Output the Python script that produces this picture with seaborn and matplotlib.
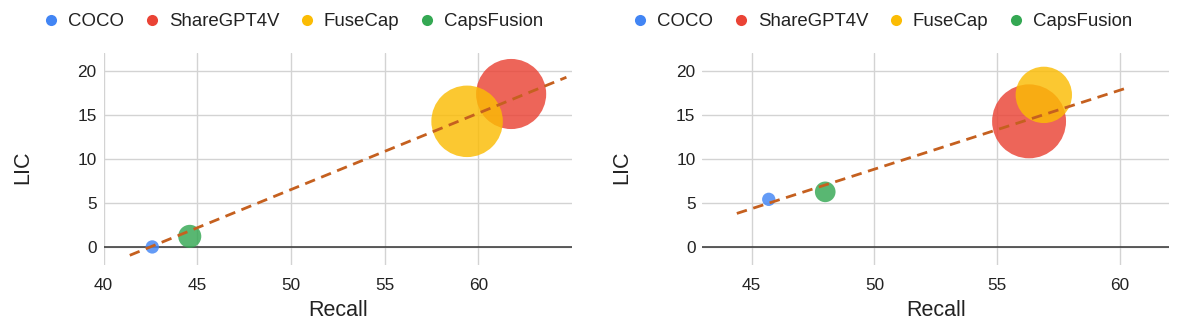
import numpy as np
import pandas as pd
import matplotlib
matplotlib.use("Agg")
import matplotlib.pyplot as plt
import seaborn as sns
from matplotlib.lines import Line2D

# ---------------- data ----------------
datasets = ["COCO", "ShareGPT4V", "FuseCap", "CapsFusion"]
colors = ["#4285F4", "#EA4335", "#FBBC04", "#34A853"]

left_recall = [42.6, 61.75, 59.4, 44.6]
left_lic = [0.05, 17.4, 14.3, 1.25]
left_bubble = [1.0, 27.7, 28.8, 3.0]
left_trend_recall = [41.4, 64.7]
left_trend_lic = [-0.9, 19.3]

right_recall = [45.7, 56.3, 56.9, 48.0]
right_lic = [5.45, 14.3, 17.3, 6.3]
right_bubble = [1.0, 30.8, 17.9, 2.4]
right_trend_recall = [44.4, 60.35]
right_trend_lic = [3.85, 18.15]

x_ticks_left = [40, 45, 50, 55, 60]
x_ticks_right = [45, 50, 55, 60]
y_ticks = [0, 5, 10, 15, 20]

# ---------------- style ----------------
sns.set_theme(style="whitegrid")
plt.rcParams["font.family"] = ["Liberation Sans", "DejaVu Sans"]
TEXT = "#222222"
GRID = "#d3d3d3"
TREND = "#C5601F"
palette = dict(zip(datasets, colors))

fig = plt.figure(figsize=(11.78, 3.22), dpi=100)
ax_l = fig.add_axes([0.0879, 0.177, 0.3977, 0.657])
ax_r = fig.add_axes([0.5963, 0.177, 0.3961, 0.657])

panels = [
    (ax_l, left_recall, left_lic, left_bubble, left_trend_recall, left_trend_lic,
     (40, 65), x_ticks_left, 0.25),
    (ax_r, right_recall, right_lic, right_bubble, right_trend_recall, right_trend_lic,
     (43, 62), x_ticks_right, 0.75),
]

for ax, rec, lic, bub, tx, ty, xlim, xt, legx in panels:
    df = pd.DataFrame({"Dataset": datasets, "Recall": rec, "LIC": lic, "bubble": bub})
    sns.scatterplot(data=df, x="Recall", y="LIC", hue="Dataset", palette=palette,
                    size="bubble", sizes=(0, 92 * 31), size_norm=(0, 31),
                    alpha=0.82, linewidth=0, edgecolor="none", legend=False,
                    ax=ax, zorder=2)
    tdf = pd.DataFrame({"Recall": tx, "LIC": ty})
    sns.lineplot(data=tdf, x="Recall", y="LIC", ax=ax, color=TREND, lw=2.0,
                 dashes=False, zorder=3)
    ax.lines[-1].set_dashes((3.8, 2.4))
    ax.axhline(0, color="#333333", lw=1.1, zorder=1.5)

    ax.set_xlim(*xlim)
    ax.set_ylim(-2, 22)
    ax.set_xticks(xt)
    ax.set_yticks(y_ticks)
    ax.grid(True, color=GRID, lw=1.0)
    ax.set_axisbelow(True)
    for s in ax.spines.values():
        s.set_visible(False)
    ax.tick_params(axis="both", length=0, labelsize=12.4, colors=TEXT)
    ax.tick_params(axis="x", pad=9)
    ax.tick_params(axis="y", pad=5)

    ax.set_xlabel("Recall", fontsize=15.5, color=TEXT)
    ax.set_ylabel("LIC", fontsize=15.5, color=TEXT)
    ax.xaxis.set_label_coords(0.5, -0.215)
    ax.xaxis.label.set_va("center")
    ax.yaxis.set_label_coords(-0.172, 0.46)
    ax.yaxis.label.set_va("center")

    handles = [Line2D([0], [0], marker="o", linestyle="none", markersize=8,
                      markerfacecolor=c, markeredgecolor="none", label=d)
               for d, c in zip(datasets, colors)]
    fig.legend(handles=handles, loc="center", bbox_to_anchor=(legx, 0.932),
               ncol=4, frameon=False, fontsize=13.4, handlelength=0.6,
               handletextpad=0.6, columnspacing=1.2, labelcolor=TEXT,
               borderaxespad=0, borderpad=0)

fig.savefig("out.png", dpi=100)
